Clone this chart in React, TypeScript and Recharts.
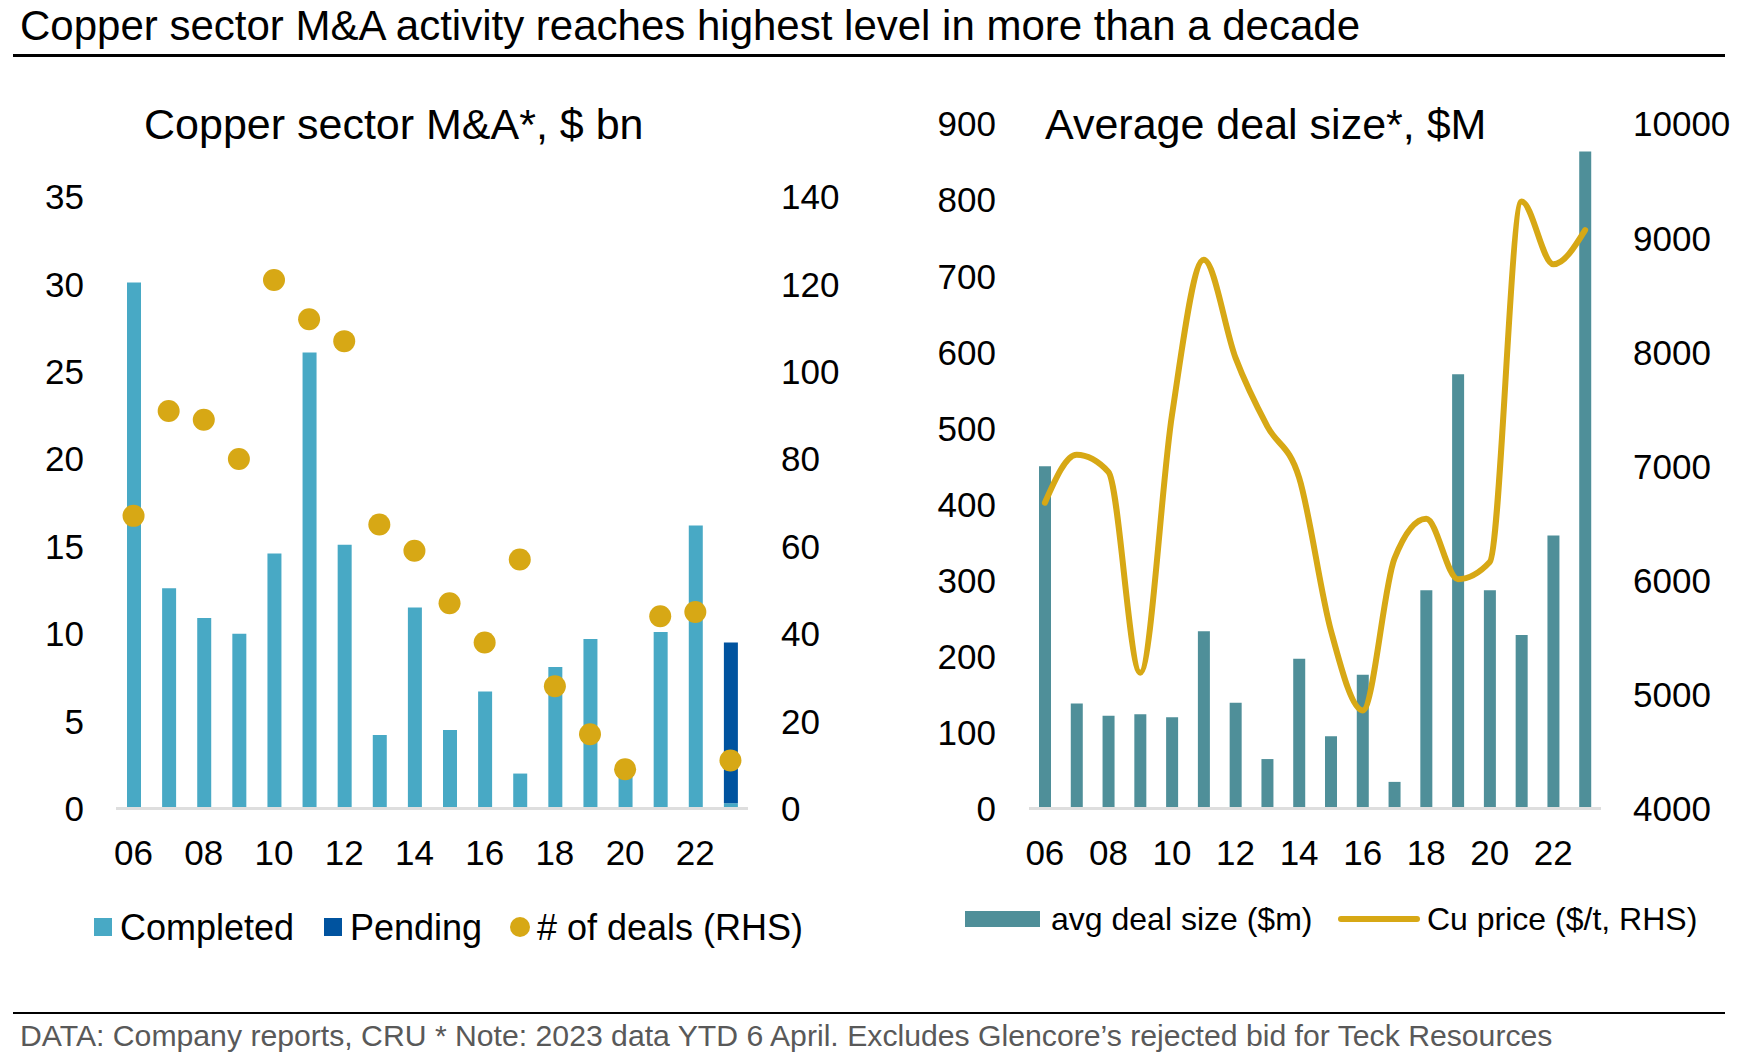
import React from "react";
import { ComposedChart, Bar, Scatter, Line, XAxis, YAxis } from "recharts";

// years 2006..2023 (2023 = YTD 6 April)
const years = ["06", "07", "08", "09", "10", "11", "12", "13", "14", "15", "16", "17", "18", "19", "20", "21", "22", "23"];

// left panel: M&A value, $bn, and number of deals
const completed = [30.1, 12.6, 10.9, 10.0, 14.6, 26.1, 15.1, 4.2, 11.5, 4.5, 6.7, 2.0, 8.1, 9.7, 2.2, 10.1, 16.2, 0.3];
const pending = [0, 0, 0, 0, 0, 0, 0, 0, 0, 0, 0, 0, 0, 0, 0, 0, 0, 9.2];
const deals = [67, 91, 89, 80, 121, 112, 107, 65, 59, 47, 38, 57, 28, 17, 9, 44, 45, 11];

// right panel: average deal size, $M, and copper price, $/t
const avgDealSize = [450, 138, 122, 124, 120, 233, 139, 65, 197, 95, 176, 35, 287, 571, 287, 228, 359, 864];
const cuPrice = [6680, 7100, 6950, 5190, 7450, 8810, 7950, 7350, 6900, 5560, 4860, 6190, 6540, 6010, 6160, 9320, 8770, 9070];

const valueTicks = [0, 5, 10, 15, 20, 25, 30, 35];
const dealTicks = [0, 20, 40, 60, 80, 100, 120, 140];
const sizeTicks = [0, 100, 200, 300, 400, 500, 600, 700, 800, 900];
const priceTicks = [4000, 5000, 6000, 7000, 8000, 9000, 10000];

const FONT = '"Liberation Sans", Arial, Helvetica, sans-serif';
const C_COMPLETED = "#48A9C5";
const C_PENDING = "#00539F";
const C_GOLD = "#D7A815";
const C_TEAL = "#4F8F99";
const C_AXIS = "#DEDEDE";

const leftData = years.map((y, i) => ({ year: y, completed: completed[i], pending: pending[i], deals: deals[i] }));
const rightData = years.map((y, i) => ({ year: y, avg: avgDealSize[i], cu: cuPrice[i] }));

const tick = { fill: "#000", fontSize: 35, fontFamily: FONT };

const Dot = (p: any) => <circle cx={p.cx} cy={p.cy} r={11} fill={C_GOLD} />;

function Text({ x, y, size, children, color = "#000" }: { x: number; y: number; size: number; children: React.ReactNode; color?: string }) {
  // y = baseline
  return (
    <div style={{ position: "absolute", left: x, top: y - size * 0.8465, fontSize: size, lineHeight: `${size}px`, color, whiteSpace: "nowrap" }}>
      {children}
    </div>
  );
}

function LeftChart() {
  return (
    <div style={{ position: "absolute", left: 0, top: 0 }}>
      <ComposedChart width={860} height={880} data={leftData} margin={{ top: 197, right: 0, bottom: 11.5, left: 0 }}>
        <XAxis dataKey="year" interval={1} height={60} tickLine={false} tickSize={0} tickMargin={32}
          axisLine={{ stroke: C_AXIS, strokeWidth: 3 }} tick={tick} />
        <YAxis yAxisId="l" domain={[0, 35]} ticks={valueTicks} interval={0} width={116}
          axisLine={false} tickLine={false} tickSize={0} tickMargin={32} tick={tick} />
        <YAxis yAxisId="r" orientation="right" domain={[0, 140]} ticks={dealTicks} interval={0} width={112}
          axisLine={false} tickLine={false} tickSize={0} tickMargin={33} tick={{ ...tick, textAnchor: "start" }} />
        <Bar yAxisId="l" dataKey="completed" stackId="s" fill={C_COMPLETED} barSize={14} isAnimationActive={false} />
        <Bar yAxisId="l" dataKey="pending" stackId="s" fill={C_PENDING} barSize={14} isAnimationActive={false} />
        <Scatter yAxisId="r" dataKey="deals" fill={C_GOLD} shape={Dot} isAnimationActive={false} />
      </ComposedChart>
    </div>
  );
}

function RightChart() {
  return (
    <div style={{ position: "absolute", left: 900, top: 0 }}>
      <ComposedChart width={842} height={880} data={rightData} margin={{ top: 124, right: 0, bottom: 11.5, left: 0 }}>
        <XAxis dataKey="year" interval={1} height={60} tickLine={false} tickSize={0} tickMargin={32}
          axisLine={{ stroke: C_AXIS, strokeWidth: 3 }} tick={tick} />
        <YAxis yAxisId="l" domain={[0, 900]} ticks={sizeTicks} interval={0} width={129}
          axisLine={false} tickLine={false} tickSize={0} tickMargin={33} tick={tick} />
        <YAxis yAxisId="r" orientation="right" domain={[4000, 10000]} ticks={priceTicks} interval={0} width={141}
          axisLine={false} tickLine={false} tickSize={0} tickMargin={32} tick={{ ...tick, textAnchor: "start" }} />
        <Bar yAxisId="l" dataKey="avg" fill={C_TEAL} barSize={12} isAnimationActive={false} />
        <Line yAxisId="r" dataKey="cu" type="monotone" stroke={C_GOLD} strokeWidth={6} dot={false}
          strokeLinecap="round" isAnimationActive={false} />
      </ComposedChart>
    </div>
  );
}

export default function App() {
  return (
    <div style={{ position: "absolute", left: 0, top: 0, width: 1742, height: 1061, background: "#fff", fontFamily: FONT, overflow: "hidden" }}>
      <Text x={20} y={41} size={42}>Copper sector M&amp;A activity reaches highest level in more than a decade</Text>
      <div style={{ position: "absolute", left: 13, top: 54, width: 1712, height: 3, background: "#000" }} />

      <LeftChart />
      <RightChart />

      <Text x={144} y={139} size={43}>Copper sector M&amp;A*, $ bn</Text>
      <Text x={1045} y={139} size={43}>Average deal size*, $M</Text>

      {/* left legend */}
      <div style={{ position: "absolute", left: 94, top: 918, width: 18, height: 18, background: C_COMPLETED }} />
      <Text x={120} y={940} size={36}>Completed</Text>
      <div style={{ position: "absolute", left: 324, top: 918, width: 18, height: 18, background: C_PENDING }} />
      <Text x={350} y={940} size={36}>Pending</Text>
      <div style={{ position: "absolute", left: 510, top: 917, width: 20, height: 20, borderRadius: 10, background: C_GOLD }} />
      <Text x={537} y={940} size={36}># of deals (RHS)</Text>

      {/* right legend */}
      <div style={{ position: "absolute", left: 965, top: 911, width: 75, height: 16, background: C_TEAL }} />
      <Text x={1051} y={930} size={32}>avg deal size ($m)</Text>
      <div style={{ position: "absolute", left: 1338, top: 916, width: 82, height: 6, borderRadius: 3, background: C_GOLD }} />
      <Text x={1427} y={930} size={32}>Cu price ($/t, RHS)</Text>

      <div style={{ position: "absolute", left: 13, top: 1012, width: 1712, height: 2, background: "#000" }} />
      <Text x={20} y={1047} size={30.2} color="#595959">DATA: Company reports, CRU * Note: 2023 data YTD 6 April. Excludes Glencore’s rejected bid for Teck Resources</Text>
    </div>
  );
}
